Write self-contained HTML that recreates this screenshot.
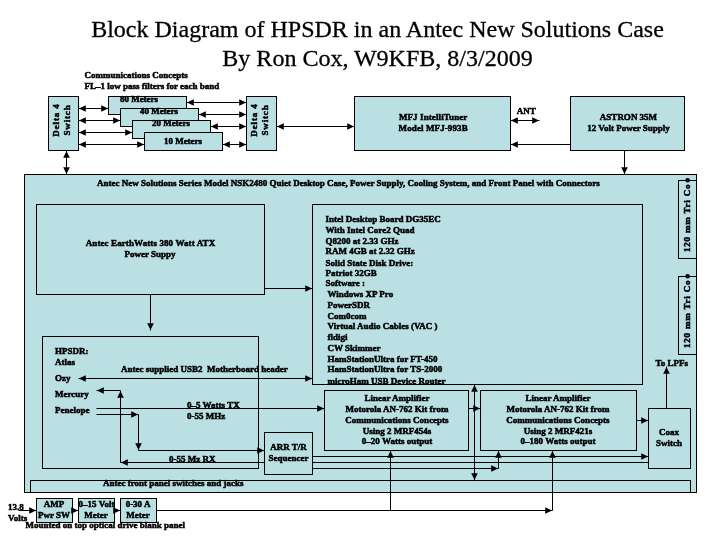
<!DOCTYPE html>
<html><head><meta charset="utf-8"><title>Block Diagram of HPSDR</title>
<style>
html,body{margin:0;padding:0;background:#fff;}
body{width:720px;height:540px;position:relative;overflow:hidden;font-family:"Liberation Serif",serif;color:#000;}
svg{position:absolute;left:0;top:0;}
.s{position:absolute;font:bold 9px/11px "Liberation Serif",serif;white-space:pre;-webkit-text-stroke:0.5px #000;}
.t{position:absolute;font:24px/28px "Liberation Serif",serif;text-align:center;white-space:pre;-webkit-text-stroke:0.3px #000;}
.r{transform:translate(-50%,-50%) rotate(-90deg);}
#tx{position:absolute;left:0;top:0;width:720px;height:540px;will-change:transform;}
.f{transform-origin:0 0;transform:rotate(-90deg);letter-spacing:0.8px;}
</style></head><body>
<svg width="720" height="540" viewBox="0 0 720 540">
<rect x="24.5" y="174.5" width="672" height="318" fill="#BBE0E3" stroke="#000" stroke-width="1"/>
<rect x="48.5" y="96.5" width="30" height="54" fill="#BBE0E3" stroke="#000" stroke-width="1"/>
<rect x="108.5" y="96.5" width="78" height="18" fill="#BBE0E3" stroke="#000" stroke-width="1"/>
<rect x="120.5" y="108.5" width="78" height="18" fill="#BBE0E3" stroke="#000" stroke-width="1"/>
<rect x="132.5" y="120.5" width="78" height="18" fill="#BBE0E3" stroke="#000" stroke-width="1"/>
<rect x="144.5" y="132.5" width="78" height="18" fill="#BBE0E3" stroke="#000" stroke-width="1"/>
<rect x="246.5" y="96.5" width="30" height="54" fill="#BBE0E3" stroke="#000" stroke-width="1"/>
<rect x="354.5" y="96.5" width="156" height="54" fill="#BBE0E3" stroke="#000" stroke-width="1"/>
<rect x="570.5" y="96.5" width="114" height="54" fill="#BBE0E3" stroke="#000" stroke-width="1"/>
<rect x="36.5" y="204.5" width="228" height="90" fill="#BBE0E3" stroke="#000" stroke-width="1"/>
<rect x="312.5" y="204.5" width="330" height="180" fill="#BBE0E3" stroke="#000" stroke-width="1"/>
<rect x="678.5" y="180.5" width="18" height="78" fill="#BBE0E3" stroke="#000" stroke-width="1"/>
<rect x="678.5" y="276.5" width="18" height="78" fill="#BBE0E3" stroke="#000" stroke-width="1"/>
<rect x="42.5" y="336.5" width="216" height="132" fill="#BBE0E3" stroke="#000" stroke-width="1"/>
<rect x="324.5" y="390.5" width="144" height="60" fill="#BBE0E3" stroke="#000" stroke-width="1"/>
<rect x="480.5" y="390.5" width="156" height="60" fill="#BBE0E3" stroke="#000" stroke-width="1"/>
<rect x="264.5" y="432.5" width="48" height="42" fill="#BBE0E3" stroke="#000" stroke-width="1"/>
<rect x="648.5" y="408.5" width="42" height="60" fill="#BBE0E3" stroke="#000" stroke-width="1"/>
<rect x="30.5" y="480.5" width="660" height="12" fill="#BBE0E3" stroke="#000" stroke-width="1"/>
<rect x="36.5" y="498.5" width="36" height="24" fill="#BBE0E3" stroke="#000" stroke-width="1"/>
<rect x="78.5" y="498.5" width="36" height="24" fill="#BBE0E3" stroke="#000" stroke-width="1"/>
<rect x="120.5" y="498.5" width="36" height="24" fill="#BBE0E3" stroke="#000" stroke-width="1"/>
<line x1="78.5" y1="108.5" x2="108.5" y2="108.5" stroke="#000" stroke-width="1"/><polygon points="78.9,108.5 85.8,105.2 85.8,111.8" fill="#000"/><polygon points="108.1,108.5 101.2,105.2 101.2,111.8" fill="#000"/>
<line x1="78.5" y1="120.5" x2="120.5" y2="120.5" stroke="#000" stroke-width="1"/><polygon points="78.9,120.5 85.8,117.2 85.8,123.8" fill="#000"/><polygon points="120.1,120.5 113.2,117.2 113.2,123.8" fill="#000"/>
<line x1="78.5" y1="132.5" x2="132.5" y2="132.5" stroke="#000" stroke-width="1"/><polygon points="78.9,132.5 85.8,129.2 85.8,135.8" fill="#000"/><polygon points="132.1,132.5 125.2,129.2 125.2,135.8" fill="#000"/>
<line x1="78.5" y1="144.5" x2="144.5" y2="144.5" stroke="#000" stroke-width="1"/><polygon points="78.9,144.5 85.8,141.2 85.8,147.8" fill="#000"/><polygon points="144.1,144.5 137.2,141.2 137.2,147.8" fill="#000"/>
<line x1="186.5" y1="102.5" x2="246.5" y2="102.5" stroke="#000" stroke-width="1"/><polygon points="186.9,102.5 193.8,99.2 193.8,105.8" fill="#000"/><polygon points="246.1,102.5 239.2,99.2 239.2,105.8" fill="#000"/>
<line x1="198.5" y1="114.5" x2="246.5" y2="114.5" stroke="#000" stroke-width="1"/><polygon points="198.9,114.5 205.8,111.2 205.8,117.8" fill="#000"/><polygon points="246.1,114.5 239.2,111.2 239.2,117.8" fill="#000"/>
<line x1="210.5" y1="126.5" x2="246.5" y2="126.5" stroke="#000" stroke-width="1"/><polygon points="210.9,126.5 217.8,123.2 217.8,129.8" fill="#000"/><polygon points="246.1,126.5 239.2,123.2 239.2,129.8" fill="#000"/>
<line x1="222.5" y1="144.5" x2="246.5" y2="144.5" stroke="#000" stroke-width="1"/><polygon points="222.9,144.5 229.8,141.2 229.8,147.8" fill="#000"/><polygon points="246.1,144.5 239.2,141.2 239.2,147.8" fill="#000"/>
<line x1="276.5" y1="126.5" x2="354.5" y2="126.5" stroke="#000" stroke-width="1"/><polygon points="276.9,126.5 283.8,123.2 283.8,129.8" fill="#000"/><polygon points="354.1,126.5 347.2,123.2 347.2,129.8" fill="#000"/>
<line x1="510.5" y1="120.5" x2="539.5" y2="120.5" stroke="#000" stroke-width="1"/><polygon points="510.9,120.5 517.8,117.2 517.8,123.8" fill="#000"/><polygon points="539.1,120.5 532.2,117.2 532.2,123.8" fill="#000"/>
<line x1="570.5" y1="144.5" x2="510.5" y2="144.5" stroke="#000" stroke-width="1"/><polygon points="510.9,144.5 517.8,141.2 517.8,147.8" fill="#000"/>
<line x1="624.5" y1="150.5" x2="624.5" y2="174.5" stroke="#000" stroke-width="1"/><polygon points="624.5,174.1 621.2,167.2 627.8,167.2" fill="#000"/>
<line x1="66.5" y1="150.5" x2="66.5" y2="174.5" stroke="#000" stroke-width="1"/><polygon points="66.5,150.9 63.2,157.8 69.8,157.8" fill="#000"/><polygon points="66.5,174.1 63.2,167.2 69.8,167.2" fill="#000"/>
<line x1="264.5" y1="288.5" x2="312.5" y2="288.5" stroke="#000" stroke-width="1"/><polygon points="312.1,288.5 305.2,285.2 305.2,291.8" fill="#000"/>
<line x1="150.5" y1="294.5" x2="150.5" y2="330.5" stroke="#000" stroke-width="1"/><polygon points="150.5,330.1 147.2,323.2 153.8,323.2" fill="#000"/>
<line x1="78.5" y1="378.5" x2="312.5" y2="378.5" stroke="#000" stroke-width="1"/><polygon points="78.9,378.5 85.8,375.2 85.8,381.8" fill="#000"/><polygon points="312.1,378.5 305.2,375.2 305.2,381.8" fill="#000"/>
<line x1="120.5" y1="390.5" x2="96.5" y2="390.5" stroke="#000" stroke-width="1"/><polygon points="96.9,390.5 103.8,387.2 103.8,393.8" fill="#000"/>
<line x1="120.5" y1="462.5" x2="120.5" y2="390.5" stroke="#000" stroke-width="1"/><polygon points="120.5,390.9 117.2,397.8 123.8,397.8" fill="#000"/>
<line x1="264.5" y1="462.5" x2="120.5" y2="462.5" stroke="#000" stroke-width="1"/><polygon points="120.9,462.5 127.8,459.2 127.8,465.8" fill="#000"/>
<line x1="96.5" y1="408.5" x2="324.5" y2="408.5" stroke="#000" stroke-width="1"/><polygon points="324.1,408.5 317.2,405.2 317.2,411.8" fill="#000"/>
<line x1="96.5" y1="414.5" x2="138.5" y2="414.5" stroke="#000" stroke-width="1"/><polygon points="138.1,414.5 131.2,411.2 131.2,417.8" fill="#000"/>
<line x1="138.5" y1="414.5" x2="138.5" y2="450.5" stroke="#000" stroke-width="1"/><polygon points="138.5,450.1 135.2,443.2 141.8,443.2" fill="#000"/>
<line x1="138.5" y1="450.5" x2="264.5" y2="450.5" stroke="#000" stroke-width="1"/><polygon points="264.1,450.5 257.2,447.2 257.2,453.8" fill="#000"/>
<line x1="312.5" y1="456.5" x2="648.5" y2="456.5" stroke="#000" stroke-width="1"/><polygon points="648.1,456.5 641.2,453.2 641.2,459.8" fill="#000"/>
<line x1="312.5" y1="462.5" x2="648.5" y2="462.5" stroke="#000" stroke-width="1"/>
<line x1="312.5" y1="468.5" x2="498.5" y2="468.5" stroke="#000" stroke-width="1"/><polygon points="498.1,468.5 491.2,465.2 491.2,471.8" fill="#000"/>
<line x1="498.5" y1="468.5" x2="498.5" y2="450.5" stroke="#000" stroke-width="1"/><polygon points="498.5,450.9 495.2,457.8 501.8,457.8" fill="#000"/>
<line x1="474.5" y1="384.5" x2="474.5" y2="480.5" stroke="#000" stroke-width="1"/><polygon points="474.5,384.9 471.2,391.8 477.8,391.8" fill="#000"/><polygon points="474.5,480.1 471.2,473.2 477.8,473.2" fill="#000"/>
<line x1="468.5" y1="408.5" x2="480.5" y2="408.5" stroke="#000" stroke-width="1"/><polygon points="480.1,408.5 473.2,405.2 473.2,411.8" fill="#000"/>
<line x1="636.5" y1="420.5" x2="648.5" y2="420.5" stroke="#000" stroke-width="1"/><polygon points="648.1,420.5 641.2,417.2 641.2,423.8" fill="#000"/>
<line x1="666.5" y1="408.5" x2="666.5" y2="366.5" stroke="#000" stroke-width="1"/><polygon points="666.5,366.9 663.2,373.8 669.8,373.8" fill="#000"/>
<line x1="18.5" y1="510.5" x2="36.5" y2="510.5" stroke="#000" stroke-width="1"/><polygon points="36.1,510.5 29.2,507.2 29.2,513.8" fill="#000"/>
<line x1="72.5" y1="510.5" x2="78.5" y2="510.5" stroke="#000" stroke-width="1"/><polygon points="78.1,510.5 71.2,507.2 71.2,513.8" fill="#000"/>
<line x1="114.5" y1="510.5" x2="120.5" y2="510.5" stroke="#000" stroke-width="1"/><polygon points="120.1,510.5 113.2,507.2 113.2,513.8" fill="#000"/>
<line x1="156.5" y1="510.5" x2="552.5" y2="510.5" stroke="#000" stroke-width="1"/><polygon points="552.1,510.5 545.2,507.2 545.2,513.8" fill="#000"/>
<line x1="390.5" y1="510.5" x2="390.5" y2="450.5" stroke="#000" stroke-width="1"/><polygon points="390.5,450.9 387.2,457.8 393.8,457.8" fill="#000"/>
<line x1="552.5" y1="510.5" x2="552.5" y2="450.5" stroke="#000" stroke-width="1"/><polygon points="552.5,450.9 549.2,457.8 555.8,457.8" fill="#000"/>
<circle cx="687.6" cy="180.3" r="2.3" fill="#000"/>
<circle cx="687.6" cy="276.3" r="2.3" fill="#000"/>
</svg>
<div id="tx">
<div class="t" style="left:0;width:755px;top:15px;">Block Diagram of HPSDR in an Antec New Solutions Case</div>
<div class="t" style="left:0;width:755px;top:43.5px;">By Ron Cox, W9KFB, 8/3/2009</div>
<div class="s" style="left:84.5px;top:75px;transform:translateY(-50%)">Communications Concepts</div>
<div class="s" style="left:84.5px;top:86px;transform:translateY(-50%)">FL&ndash;1 low pass filters for each band</div>
<div class="s" style="left:139px;top:99px;transform:translate(-50%,-50%)">80 Meters</div>
<div class="s" style="left:159px;top:111px;transform:translate(-50%,-50%)">40 Meters</div>
<div class="s" style="left:171px;top:123px;transform:translate(-50%,-50%)">20 Meters</div>
<div class="s" style="left:183px;top:141px;transform:translate(-50%,-50%)">10 Meters</div>
<div class="s" style="left:433.2px;top:117px;transform:translate(-50%,-50%)"><span style="letter-spacing:0.1px">MFJ IntelliTuner</span></div>
<div class="s" style="left:433.2px;top:128px;transform:translate(-50%,-50%)"><span style="letter-spacing:0.1px">Model MFJ-993B</span></div>
<div class="s" style="left:526.3px;top:111px;transform:translate(-50%,-50%)">ANT</div>
<div class="s" style="left:628.5px;top:117px;transform:translate(-50%,-50%)">ASTRON 35M</div>
<div class="s" style="left:628.5px;top:128px;transform:translate(-50%,-50%)">12 Volt Power Supply</div>
<div class="s" style="left:97px;top:183px;transform:translateY(-50%)">Antec New Solutions Series Model NSK2480 Quiet Desktop Case, Power Supply, Cooling System, and Front Panel with Connectors</div>
<div class="s" style="left:150.5px;top:243px;transform:translate(-50%,-50%)"><span style="letter-spacing:0.1px">Antec EarthWatts 380 Watt ATX</span></div>
<div class="s" style="left:150px;top:254px;transform:translate(-50%,-50%)">Power Suppy</div>
<div class="s" style="left:325.5px;top:219px;transform:translateY(-50%)">Intel Desktop Board DG35EC</div>
<div class="s" style="left:325.5px;top:230px;transform:translateY(-50%)">With Intel Core2 Quad</div>
<div class="s" style="left:325.5px;top:240.5px;transform:translateY(-50%)">Q8200 at 2.33 GHz</div>
<div class="s" style="left:325.5px;top:251px;transform:translateY(-50%)">RAM 4GB at 2.32 GHz</div>
<div class="s" style="left:325.5px;top:262.5px;transform:translateY(-50%)">Solid State Disk Drive:</div>
<div class="s" style="left:325.5px;top:273px;transform:translateY(-50%)">Patriot 32GB</div>
<div class="s" style="left:325.5px;top:283px;transform:translateY(-50%)">Software :</div>
<div class="s" style="left:327.5px;top:294px;transform:translateY(-50%)">Windows XP Pro</div>
<div class="s" style="left:327.5px;top:305px;transform:translateY(-50%)">PowerSDR</div>
<div class="s" style="left:327.5px;top:316px;transform:translateY(-50%)">Com0com</div>
<div class="s" style="left:327.5px;top:326px;transform:translateY(-50%)">Virtual Audio Cables (VAC )</div>
<div class="s" style="left:327.5px;top:337px;transform:translateY(-50%)">fldigi</div>
<div class="s" style="left:327.5px;top:348px;transform:translateY(-50%)">CW Skimmer</div>
<div class="s" style="left:327.5px;top:359px;transform:translateY(-50%)">HamStationUltra for FT-450</div>
<div class="s" style="left:327.5px;top:369.3px;transform:translateY(-50%)">HamStationUltra for TS-2000</div>
<div class="s" style="left:327.5px;top:380.5px;transform:translateY(-50%)">microHam USB Device Router</div>
<div class="s" style="left:55px;top:351px;transform:translateY(-50%)">HPSDR:</div>
<div class="s" style="left:55px;top:362px;transform:translateY(-50%)">Atlas</div>
<div class="s" style="left:55px;top:378px;transform:translateY(-50%)">Ozy</div>
<div class="s" style="left:55px;top:394px;transform:translateY(-50%)">Mercury</div>
<div class="s" style="left:55px;top:410px;transform:translateY(-50%)">Penelope</div>
<div class="s" style="left:121px;top:369px;transform:translateY(-50%)">Antec supplied USB2  Motherboard header</div>
<div class="s" style="left:187px;top:405px;transform:translateY(-50%)">0&ndash;5 Watts TX</div>
<div class="s" style="left:187px;top:415.5px;transform:translateY(-50%)">0-55 MHz</div>
<div class="s" style="left:169px;top:459px;transform:translateY(-50%)">0-55 Mz RX</div>
<div class="s" style="left:288.5px;top:446.5px;transform:translate(-50%,-50%)">ARR T/R</div>
<div class="s" style="left:288.5px;top:457.5px;transform:translate(-50%,-50%)">Sequencer</div>
<div class="s" style="left:397px;top:398px;transform:translate(-50%,-50%)">Linear Amplifier</div>
<div class="s" style="left:397px;top:409px;transform:translate(-50%,-50%)">Motorola AN-762 Kit from</div>
<div class="s" style="left:397px;top:420px;transform:translate(-50%,-50%)">Communications Concepts</div>
<div class="s" style="left:397px;top:431px;transform:translate(-50%,-50%)">Using 2 MRF454s</div>
<div class="s" style="left:397px;top:440.8px;transform:translate(-50%,-50%)">0&ndash;20 Watts output</div>
<div class="s" style="left:558px;top:398px;transform:translate(-50%,-50%)">Linear Amplifier</div>
<div class="s" style="left:558px;top:409px;transform:translate(-50%,-50%)">Motorola AN-762 Kit from</div>
<div class="s" style="left:558px;top:420px;transform:translate(-50%,-50%)">Communications Concepts</div>
<div class="s" style="left:558px;top:431px;transform:translate(-50%,-50%)">Using 2 MRF421s</div>
<div class="s" style="left:558px;top:440.8px;transform:translate(-50%,-50%)">0&ndash;180 Watts output</div>
<div class="s" style="left:669px;top:432px;transform:translate(-50%,-50%)">Coax</div>
<div class="s" style="left:669px;top:443px;transform:translate(-50%,-50%)">Switch</div>
<div class="s" style="left:671.7px;top:363px;transform:translate(-50%,-50%)">To LPFs</div>
<div class="s" style="left:103px;top:483.2px;transform:translateY(-50%)">Antec front panel switches and jacks</div>
<div class="s" style="left:8px;top:506.5px;transform:translateY(-50%)">13.8</div>
<div class="s" style="left:8px;top:518px;transform:translateY(-50%)">Volts</div>
<div class="s" style="left:54px;top:504px;transform:translate(-50%,-50%)">AMP</div>
<div class="s" style="left:54px;top:514.5px;transform:translate(-50%,-50%)">Pwr SW</div>
<div class="s" style="left:96.5px;top:504px;transform:translate(-50%,-50%)">0&ndash;15 Volt</div>
<div class="s" style="left:96px;top:514.5px;transform:translate(-50%,-50%)">Meter</div>
<div class="s" style="left:138px;top:504px;transform:translate(-50%,-50%)">0-30 A</div>
<div class="s" style="left:138px;top:514.5px;transform:translate(-50%,-50%)">Meter</div>
<div class="s" style="left:25.5px;top:524.6px;transform:translateY(-50%)">Mounted on top optical drive blank panel</div>
<div class="s r" style="left:56px;top:119.5px;letter-spacing:0.87px;">Delta 4</div>
<div class="s r" style="left:67px;top:119.5px;letter-spacing:0.87px;">Switch</div>
<div class="s r" style="left:254px;top:119.5px;letter-spacing:0.87px;">Delta 4</div>
<div class="s r" style="left:265px;top:119.5px;letter-spacing:0.87px;">Switch</div>
<div class="s f" style="left:682px;top:252px;">120 mm Tri Co</div>
<div class="s f" style="left:682px;top:348px;">120 mm Tri Co</div>
</div>
</body></html>
